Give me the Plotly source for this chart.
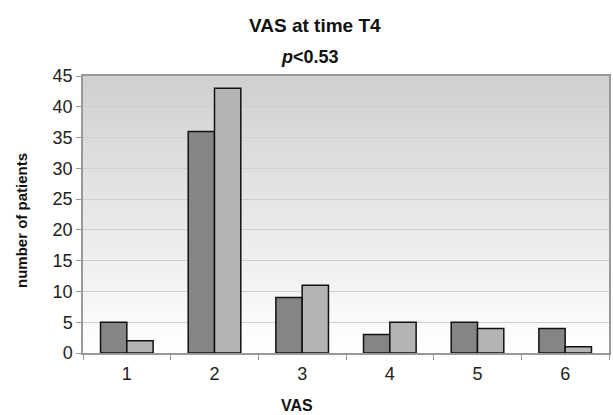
import plotly.graph_objects as go

categories = ["1", "2", "3", "4", "5", "6"]
series_a = [5, 36, 9, 3, 5, 4]
series_b = [2, 43, 11, 5, 4, 1]
y_ticks = [0, 5, 10, 15, 20, 25, 30, 35, 40, 45]

FONT = "Liberation Sans, Arial, sans-serif"

fig = go.Figure()
fig.add_trace(go.Bar(x=categories, y=series_a, marker=dict(color="#858585", line=dict(color="#111111", width=1.5)), name="A"))
fig.add_trace(go.Bar(x=categories, y=series_b, marker=dict(color="#b4b4b4", line=dict(color="#111111", width=1.5)), name="B"))

# gradient background (overlapping bands to avoid seams)
n = 60
shapes = []
for i in range(n):
    t = i / (n - 1)
    g = int(round(255 - (255 - 208) * t))
    shapes.append(dict(type="rect", xref="x domain", yref="y domain", x0=0, x1=1,
                       y0=i / n, y1=min(1.0, (i + 2) / n), fillcolor=f"rgb({g},{g},{g})",
                       line=dict(width=0), layer="below"))

fig.update_layout(
    width=613, height=415,
    margin=dict(l=83, r=2, t=76, b=62),
    paper_bgcolor="white", plot_bgcolor="rgba(0,0,0,0)",
    barmode="group", bargap=0.4, bargroupgap=0,
    showlegend=False,
    shapes=shapes,
    font=dict(family=FONT, color="#222222"),
    xaxis=dict(type="category", tickson="boundaries", ticks="outside", ticklen=5,
               tickcolor="#999999", showline=True, linecolor="#999999", linewidth=1.5,
               mirror=True, showgrid=False, tickfont=dict(size=18, color="#222222"),
               ticklabelstandoff=4, range=[-0.5, 5.5]),
    yaxis=dict(range=[0, 45], tickvals=y_ticks, ticks="outside", ticklen=5,
               tickcolor="#999999", showline=True, linecolor="#999999", linewidth=1.5,
               mirror=True, showgrid=True, gridcolor="#cfcfcf", gridwidth=1,
               tickfont=dict(size=18, color="#222222"), zeroline=False),
    annotations=[
        dict(text="<b>VAS at time T4</b>", xref="paper", yref="paper", x=0.441, y=1.184,
             showarrow=False, font=dict(size=19, color="#111111"), xanchor="center", yanchor="middle"),
        dict(text="<b><i>p</i>&lt;0.53</b>", xref="paper", yref="paper", x=0.432, y=1.069,
             showarrow=False, font=dict(size=18, color="#111111"), xanchor="center", yanchor="middle"),
        dict(text="<b>number of patients</b>", xref="paper", yref="paper", x=-0.118, y=0.48,
             showarrow=False, textangle=-90, font=dict(size=15, color="#111111"),
             xanchor="center", yanchor="middle"),
        dict(text="<b>VAS</b>", xref="paper", yref="paper", x=0.407, y=-0.19,
             showarrow=False, font=dict(size=16, color="#111111"), xanchor="center", yanchor="middle"),
    ],
)

fig.write_html("out.html")
